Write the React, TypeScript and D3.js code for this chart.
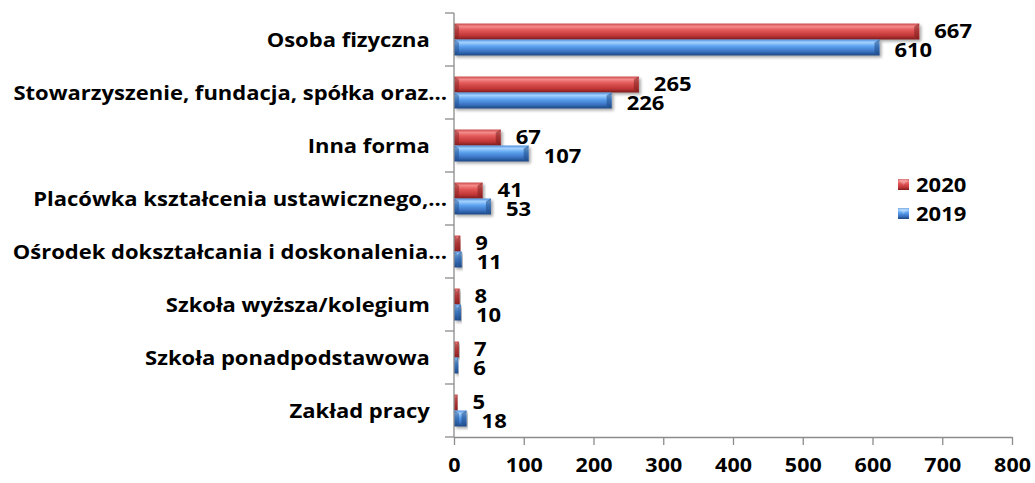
import React, { useEffect, useRef } from "react";
import * as d3 from "d3";

// categories, top to bottom
const categories = [
  "Osoba fizyczna   ",
  "Stowarzyszenie, fundacja, spółka oraz…",
  "Inna forma   ",
  "Placówka kształcenia ustawicznego,…",
  "Ośrodek dokształcania i doskonalenia…",
  "Szkoła wyższa/kolegium   ",
  "Szkoła ponadpodstawowa   ",
  "Zakład pracy   ",
];
const series = ["2020", "2019"];
const values2020 = [667, 265, 67, 41, 9, 8, 7, 5];
const values2019 = [610, 226, 107, 53, 11, 10, 6, 18];
const xTicks = [0, 100, 200, 300, 400, 500, 600, 700, 800];

const W = 1035;
const H = 483;
const FONT = "'Open Sans', 'Noto Sans', sans-serif";
const SX = 1.1; // the source text is slightly stretched horizontally

export default function App() {
  const axisRef = useRef<SVGGElement>(null);

  const x = d3.scaleLinear().domain([0, 800]).range([454, 1012]);
  const y = d3.scaleBand<string>().domain(categories).range([13, 437]);
  const yInner = d3
    .scaleBand<string>()
    .domain(series)
    .range([0, y.bandwidth()])
    .paddingOuter(0.66);

  const valuesOf: Record<string, number[]> = { "2020": values2020, "2019": values2019 };
  const grad: Record<string, string> = { "2020": "url(#gRed)", "2019": "url(#gBlue)" };
  const edge: Record<string, string> = { "2020": "#7d1f1f", "2019": "#1f4a85" };

  useEffect(() => {
    if (!axisRef.current) return;
    const g = d3.select(axisRef.current);
    g.selectAll("*").remove();
    g.call(
      d3.axisBottom(x).tickValues(xTicks).tickSize(8).tickSizeOuter(0).tickPadding(13)
    );
    g.select(".domain").attr("stroke", "#8c8c8c").attr("stroke-width", 1.3);
    g.selectAll(".tick line").attr("stroke", "#8c8c8c").attr("stroke-width", 1.3);
    g.selectAll(".tick text")
      .attr("fill", "#000")
      .attr("transform", `scale(${SX},1)`)
      .style("font-family", FONT)
      .style("font-weight", "bold")
      .style("font-size", "19.5px");
  }, []);

  const bounds = categories.map((c) => y(c) as number).concat([y.range()[1]]);

  return (
    <svg
      width={W}
      height={H}
      style={{ position: "absolute", left: 0, top: 0, background: "#fff" }}
    >
      <defs>
        <linearGradient id="gRed" x1="0" y1="0" x2="0" y2="1">
          <stop offset="0" stopColor="#c94848" />
          <stop offset="0.18" stopColor="#f58a8a" />
          <stop offset="0.4" stopColor="#e35a5a" />
          <stop offset="0.75" stopColor="#c23636" />
          <stop offset="1" stopColor="#7e1d1d" />
        </linearGradient>
        <linearGradient id="gBlue" x1="0" y1="0" x2="0" y2="1">
          <stop offset="0" stopColor="#4e8fdc" />
          <stop offset="0.18" stopColor="#a4d2ff" />
          <stop offset="0.42" stopColor="#5da3f0" />
          <stop offset="0.75" stopColor="#3b72c2" />
          <stop offset="1" stopColor="#1d4680" />
        </linearGradient>
        <filter id="shadow" x="-5%" y="-30%" width="115%" height="180%">
          <feGaussianBlur in="SourceAlpha" stdDeviation="1.8" />
          <feOffset dx="2" dy="2" result="b" />
          <feComponentTransfer>
            <feFuncA type="linear" slope="0.35" />
          </feComponentTransfer>
          <feMerge>
            <feMergeNode />
            <feMergeNode in="SourceGraphic" />
          </feMerge>
        </filter>
      </defs>

      {/* bars */}
      {categories.map((c, i) => (
        <g key={c} transform={`translate(0,${y(c)})`}>
          {series.map((s) => {
            const v = valuesOf[s][i];
            const by = yInner(s) as number;
            const bh = yInner.bandwidth();
            const x0 = x(0);
            const x1 = x(v);
            const bev = Math.min(5, (x1 - x0) / 2);
            return (
              <g key={s}>
                <rect
                  x={x0}
                  y={by}
                  width={x1 - x0}
                  height={bh}
                  fill={grad[s]}
                  filter="url(#shadow)"
                />
                <polygon
                  points={`${x1 - bev},${by + 3} ${x1},${by} ${x1},${by + bh} ${x1 - bev},${by + bh - 3}`}
                  fill={edge[s]}
                  opacity={0.55}
                />
                <polygon
                  points={`${x0},${by} ${x0 + bev},${by + 3} ${x0 + bev},${by + bh - 3} ${x0},${by + bh}`}
                  fill={edge[s]}
                  opacity={0.45}
                />
                <text
                  transform={`translate(${x1 + 15},${by + bh / 2 + (s === "2020" ? -1 : 2)}) scale(${SX},1)`}
                  dominantBaseline="central"
                  style={{ fontFamily: FONT, fontWeight: "bold", fontSize: 20 }}
                >
                  {v}
                </text>
              </g>
            );
          })}
        </g>
      ))}

      {/* y axis */}
      <line x1={x(0)} x2={x(0)} y1={y.range()[0]} y2={y.range()[1]} stroke="#8c8c8c" strokeWidth={1.3} />
      {bounds.map((b, i) => (
        <line key={i} x1={x(0) - 9} x2={x(0)} y1={b} y2={b} stroke="#8c8c8c" strokeWidth={1.3} />
      ))}
      {categories.map((c) => (
        <text
          key={c}
          transform={`translate(447,${(y(c) as number) + y.bandwidth() / 2}) scale(${SX},1)`}
          textAnchor="end"
          dominantBaseline="central"
          style={{ fontFamily: FONT, fontWeight: "bold", fontSize: 20, whiteSpace: "pre" }}
        >
          {c}
        </text>
      ))}

      {/* x axis */}
      <g ref={axisRef} transform={`translate(0,${y.range()[1]})`} />

      {/* legend */}
      {series.map((s, i) => (
        <g key={s} transform={`translate(898,${184 + i * 29})`}>
          <rect x={0} y={-5} width={11} height={11} fill={grad[s]} />
          <polygon points="0,-5 11,-5 5.5,1" fill="#fff" opacity={0.25} />
          <text
            transform={`translate(18,0) scale(${SX},1)`}
            dominantBaseline="central"
            style={{ fontFamily: FONT, fontWeight: "bold", fontSize: 20 }}
          >
            {s}
          </text>
        </g>
      ))}
    </svg>
  );
}
